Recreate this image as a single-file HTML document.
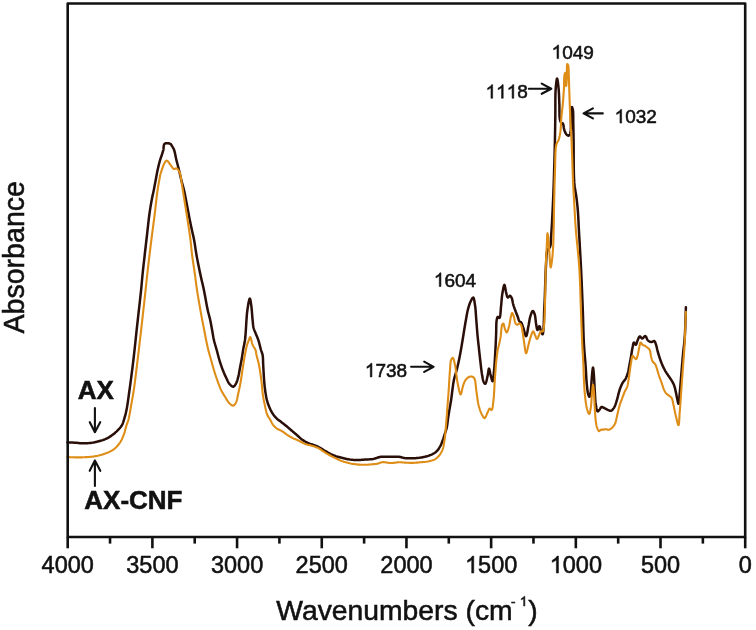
<!DOCTYPE html>
<html><head><meta charset="utf-8"><style>
html,body{margin:0;padding:0;background:#fff;}
body{width:756px;height:630px;overflow:hidden;}
svg{display:block;will-change:transform;}
text{font-family:"Liberation Sans",sans-serif;fill:#111;stroke:#111;stroke-width:0.55px;}
</style></head><body>
<svg width="756" height="630" viewBox="0 0 756 630">
<rect x="0" y="0" width="756" height="630" fill="#fff"/>
<polyline points="67.50,442.50 68.42,442.52 69.34,442.54 70.26,442.56 71.18,442.58 72.10,442.60 73.03,442.62 73.96,442.66 74.90,442.70 75.89,442.76 76.88,442.85 77.88,442.94 78.88,443.04 79.89,443.13 80.90,443.21 81.90,443.27 82.90,443.30 83.89,443.31 84.88,443.30 85.87,443.27 86.86,443.24 87.84,443.18 88.83,443.11 89.82,443.01 90.80,442.90 91.79,442.77 92.78,442.61 93.77,442.44 94.76,442.24 95.75,442.03 96.73,441.81 97.72,441.56 98.70,441.30 99.71,441.02 100.74,440.72 101.77,440.40 102.79,440.07 103.80,439.71 104.80,439.33 105.76,438.93 106.70,438.50 107.55,438.07 108.38,437.61 109.20,437.13 110.00,436.62 110.77,436.11 111.54,435.58 112.28,435.04 113.00,434.50 113.65,433.99 114.29,433.48 114.91,432.95 115.51,432.42 116.10,431.88 116.68,431.33 117.24,430.77 117.80,430.20 118.35,429.64 118.89,429.07 119.43,428.50 119.95,427.92 120.45,427.32 120.93,426.70 121.38,426.07 121.80,425.40 122.19,424.68 122.54,423.93 122.85,423.16 123.14,422.36 123.41,421.55 123.67,420.72 123.93,419.87 124.20,419.00 124.51,417.98 124.82,416.95 125.11,415.91 125.40,414.83 125.68,413.72 125.95,412.55 126.23,411.31 126.50,410.00 126.90,407.91 127.28,405.66 127.65,403.27 128.02,400.76 128.38,398.15 128.75,395.47 129.12,392.75 129.50,390.00 129.98,386.56 130.47,382.98 130.96,379.30 131.46,375.53 131.95,371.69 132.44,367.81 132.93,363.90 133.40,360.00 133.89,355.76 134.38,351.44 134.85,347.08 135.32,342.67 135.79,338.24 136.25,333.81 136.72,329.39 137.20,325.00 137.70,320.53 138.22,315.91 138.75,311.23 139.28,306.59 139.79,302.06 140.27,297.72 140.71,293.68 141.10,290.00 141.32,287.84 141.50,285.86 141.67,284.01 141.83,282.24 141.98,280.51 142.14,278.75 142.31,276.93 142.50,275.00 142.74,272.64 143.00,270.20 143.27,267.71 143.55,265.18 143.84,262.63 144.13,260.07 144.42,257.52 144.70,255.00 144.98,252.50 145.27,250.00 145.56,247.50 145.84,245.00 146.13,242.50 146.42,240.00 146.71,237.50 147.00,235.00 147.28,232.48 147.56,229.93 147.84,227.37 148.12,224.82 148.40,222.29 148.69,219.79 148.99,217.36 149.30,215.00 149.58,213.00 149.87,211.02 150.16,209.08 150.47,207.17 150.77,205.30 151.08,203.48 151.39,201.71 151.70,200.00 151.96,198.65 152.22,197.35 152.49,196.10 152.75,194.87 153.02,193.66 153.29,192.45 153.55,191.24 153.80,190.00 154.05,188.75 154.29,187.50 154.53,186.25 154.76,185.00 155.00,183.75 155.23,182.50 155.46,181.25 155.70,180.00 155.93,178.75 156.16,177.50 156.39,176.25 156.61,175.00 156.84,173.75 157.08,172.50 157.33,171.25 157.60,170.00 157.89,168.72 158.19,167.41 158.50,166.09 158.82,164.78 159.15,163.49 159.47,162.25 159.79,161.08 160.10,160.00 160.32,159.29 160.53,158.62 160.75,157.99 160.97,157.39 161.18,156.80 161.39,156.21 161.60,155.61 161.80,155.00 162.00,154.38 162.20,153.77 162.39,153.15 162.58,152.54 162.77,151.92 162.95,151.29 163.13,150.65 163.30,150.00 163.45,149.22 163.54,148.35 163.60,147.45 163.67,146.55 163.77,145.69 163.94,144.92 164.21,144.28 164.60,143.80 165.13,143.50 165.81,143.31 166.59,143.22 167.42,143.21 168.25,143.28 169.04,143.40 169.74,143.58 170.30,143.80 170.60,143.98 170.86,144.20 171.08,144.46 171.27,144.74 171.45,145.04 171.62,145.35 171.80,145.67 172.00,146.00 172.27,146.42 172.54,146.86 172.81,147.31 173.08,147.78 173.35,148.29 173.61,148.82 173.86,149.39 174.10,150.00 174.44,151.02 174.74,152.17 175.03,153.40 175.30,154.70 175.56,156.04 175.83,157.39 176.11,158.72 176.40,160.00 176.71,161.25 177.04,162.50 177.37,163.75 177.70,165.00 178.03,166.25 178.36,167.50 178.69,168.75 179.00,170.00 179.30,171.25 179.59,172.50 179.87,173.75 180.14,175.00 180.42,176.25 180.70,177.50 181.00,178.75 181.30,180.00 181.62,181.25 181.96,182.50 182.31,183.75 182.67,185.00 183.02,186.25 183.36,187.50 183.69,188.75 184.00,190.00 184.28,191.25 184.55,192.49 184.80,193.74 185.05,194.99 185.29,196.25 185.52,197.50 185.76,198.75 186.00,200.00 186.24,201.25 186.48,202.50 186.72,203.75 186.96,205.00 187.19,206.25 187.43,207.50 187.66,208.75 187.90,210.00 188.14,211.25 188.37,212.50 188.60,213.75 188.84,215.00 189.07,216.25 189.31,217.50 189.55,218.75 189.80,220.00 190.05,221.25 190.31,222.50 190.57,223.75 190.83,225.00 191.10,226.25 191.36,227.50 191.63,228.75 191.90,230.00 192.17,231.24 192.45,232.45 192.73,233.66 193.01,234.87 193.29,236.10 193.56,237.35 193.83,238.65 194.10,240.00 194.41,241.71 194.70,243.48 194.98,245.31 195.26,247.18 195.54,249.09 195.84,251.03 196.16,253.00 196.50,255.00 196.94,257.39 197.41,259.87 197.91,262.42 198.42,265.01 198.95,267.59 199.48,270.14 200.00,272.62 200.50,275.00 200.93,276.97 201.36,278.85 201.78,280.69 202.21,282.50 202.63,284.31 203.06,286.15 203.48,288.03 203.90,290.00 204.38,292.41 204.87,294.96 205.35,297.59 205.83,300.25 206.30,302.88 206.78,305.42 207.24,307.81 207.70,310.00 208.02,311.42 208.35,312.75 208.68,314.00 209.00,315.22 209.31,316.40 209.62,317.58 209.92,318.77 210.20,320.00 210.47,321.25 210.72,322.50 210.96,323.75 211.19,325.00 211.42,326.25 211.65,327.50 211.87,328.75 212.10,330.00 212.32,331.25 212.53,332.50 212.74,333.75 212.95,335.01 213.16,336.26 213.38,337.51 213.63,338.76 213.90,340.00 214.20,341.26 214.53,342.51 214.88,343.76 215.24,345.01 215.61,346.25 215.98,347.50 216.35,348.75 216.70,350.00 217.04,351.25 217.37,352.50 217.69,353.75 218.01,355.01 218.34,356.26 218.68,357.51 219.03,358.75 219.40,360.00 219.79,361.26 220.19,362.54 220.60,363.81 221.03,365.08 221.46,366.35 221.90,367.59 222.35,368.81 222.80,370.00 223.22,371.06 223.64,372.10 224.08,373.13 224.52,374.14 224.96,375.14 225.41,376.11 225.85,377.07 226.30,378.00 226.68,378.82 227.06,379.64 227.43,380.45 227.80,381.25 228.18,382.01 228.59,382.73 229.03,383.40 229.50,384.00 229.93,384.48 230.40,384.97 230.89,385.44 231.39,385.87 231.90,386.24 232.39,386.52 232.86,386.68 233.30,386.70 233.70,386.57 234.08,386.31 234.46,385.93 234.81,385.47 235.16,384.96 235.49,384.40 235.80,383.84 236.10,383.30 236.45,382.61 236.77,381.86 237.06,381.06 237.33,380.23 237.59,379.37 237.83,378.49 238.07,377.60 238.30,376.70 238.55,375.66 238.79,374.58 239.00,373.47 239.20,372.34 239.40,371.20 239.60,370.06 239.79,368.92 240.00,367.80 240.21,366.69 240.43,365.59 240.65,364.49 240.86,363.38 241.08,362.28 241.29,361.16 241.50,360.04 241.70,358.90 241.91,357.67 242.11,356.43 242.31,355.17 242.50,353.90 242.69,352.63 242.89,351.37 243.09,350.13 243.30,348.90 243.51,347.80 243.72,346.76 243.94,345.76 244.16,344.75 244.37,343.71 244.59,342.59 244.80,341.37 245.00,340.00 245.33,337.00 245.62,333.41 245.89,329.42 246.14,325.21 246.41,320.98 246.69,316.90 247.02,313.18 247.40,310.00 247.67,308.15 247.97,306.22 248.28,304.32 248.59,302.53 248.91,300.96 249.23,299.72 249.52,298.90 249.80,298.60 249.99,298.77 250.18,299.23 250.37,299.94 250.55,300.83 250.72,301.83 250.88,302.90 251.05,303.98 251.20,305.00 251.42,306.60 251.61,308.41 251.79,310.36 251.96,312.39 252.12,314.44 252.27,316.43 252.43,318.31 252.60,320.00 252.72,321.13 252.82,322.22 252.91,323.27 253.01,324.29 253.12,325.26 253.25,326.20 253.40,327.12 253.60,328.00 253.79,328.68 254.00,329.33 254.22,329.94 254.46,330.53 254.71,331.12 254.97,331.72 255.24,332.35 255.50,333.00 255.82,333.81 256.17,334.64 256.53,335.48 256.89,336.34 257.26,337.22 257.62,338.12 257.97,339.05 258.30,340.00 258.67,341.18 259.03,342.45 259.38,343.76 259.72,345.10 260.05,346.42 260.38,347.70 260.69,348.90 261.00,350.00 261.22,350.70 261.44,351.33 261.66,351.92 261.88,352.49 262.08,353.06 262.28,353.66 262.45,354.30 262.60,355.00 262.76,356.06 262.88,357.20 262.96,358.40 263.01,359.65 263.05,360.94 263.09,362.27 263.13,363.63 263.20,365.00 263.30,366.75 263.40,368.61 263.51,370.54 263.62,372.50 263.73,374.47 263.85,376.39 263.97,378.25 264.10,380.00 264.21,381.35 264.31,382.64 264.42,383.90 264.54,385.13 264.66,386.34 264.79,387.55 264.94,388.77 265.10,390.00 265.28,391.27 265.47,392.56 265.68,393.86 265.90,395.16 266.13,396.43 266.37,397.67 266.63,398.87 266.90,400.00 267.13,400.86 267.36,401.69 267.61,402.48 267.86,403.26 268.12,404.02 268.40,404.77 268.69,405.53 269.00,406.30 269.33,407.11 269.68,407.93 270.05,408.75 270.42,409.57 270.82,410.38 271.23,411.17 271.65,411.95 272.10,412.70 272.55,413.40 273.01,414.09 273.48,414.77 273.98,415.43 274.49,416.08 275.01,416.71 275.55,417.31 276.10,417.90 276.66,418.44 277.24,418.96 277.83,419.46 278.44,419.93 279.06,420.40 279.68,420.87 280.29,421.33 280.90,421.80 281.49,422.26 282.07,422.70 282.65,423.14 283.23,423.57 283.82,424.01 284.40,424.46 285.00,424.92 285.60,425.40 286.28,425.96 286.97,426.54 287.67,427.14 288.38,427.75 289.09,428.37 289.79,428.98 290.50,429.60 291.20,430.20 291.89,430.79 292.58,431.38 293.26,431.96 293.95,432.55 294.64,433.14 295.32,433.72 296.01,434.31 296.70,434.90 297.40,435.51 298.09,436.13 298.78,436.76 299.47,437.39 300.17,438.00 300.87,438.60 301.58,439.17 302.30,439.70 302.97,440.16 303.63,440.59 304.29,441.00 304.96,441.39 305.65,441.77 306.36,442.14 307.11,442.52 307.90,442.90 309.01,443.38 310.21,443.85 311.48,444.29 312.80,444.74 314.12,445.20 315.43,445.67 316.70,446.17 317.90,446.70 318.96,447.24 319.99,447.81 320.99,448.41 321.97,449.02 322.95,449.63 323.92,450.24 324.90,450.83 325.90,451.40 326.88,451.94 327.86,452.48 328.84,453.01 329.83,453.53 330.81,454.04 331.80,454.52 332.80,454.98 333.80,455.40 334.77,455.77 335.75,456.12 336.74,456.44 337.72,456.73 338.72,457.01 339.71,457.28 340.70,457.54 341.70,457.80 342.69,458.05 343.69,458.30 344.69,458.54 345.69,458.77 346.69,458.98 347.69,459.18 348.70,459.35 349.70,459.50 350.69,459.62 351.67,459.73 352.66,459.82 353.65,459.88 354.63,459.94 355.62,459.97 356.61,459.99 357.60,460.00 358.60,459.99 359.61,459.95 360.61,459.89 361.62,459.81 362.62,459.73 363.62,459.65 364.62,459.57 365.60,459.50 366.53,459.45 367.44,459.41 368.35,459.38 369.26,459.35 370.16,459.30 371.07,459.23 371.98,459.14 372.90,459.00 373.89,458.79 374.88,458.52 375.88,458.20 376.88,457.87 377.88,457.54 378.89,457.23 379.89,456.98 380.90,456.80 381.88,456.70 382.84,456.65 383.81,456.64 384.78,456.67 385.76,456.71 386.75,456.75 387.76,456.79 388.80,456.80 390.04,456.79 391.35,456.75 392.70,456.71 394.07,456.68 395.41,456.65 396.72,456.66 397.96,456.70 399.10,456.80 399.88,456.92 400.60,457.07 401.29,457.25 401.95,457.45 402.60,457.64 403.27,457.82 403.96,457.98 404.70,458.10 405.62,458.20 406.57,458.27 407.56,458.32 408.56,458.35 409.57,458.35 410.59,458.35 411.60,458.33 412.60,458.30 413.60,458.26 414.60,458.22 415.60,458.16 416.59,458.08 417.59,457.99 418.60,457.88 419.60,457.75 420.60,457.60 421.64,457.42 422.70,457.23 423.76,457.02 424.82,456.79 425.87,456.53 426.91,456.25 427.92,455.94 428.90,455.60 429.80,455.26 430.70,454.91 431.59,454.53 432.45,454.14 433.29,453.71 434.10,453.25 434.87,452.75 435.60,452.20 436.26,451.62 436.88,451.00 437.47,450.34 438.03,449.65 438.56,448.94 439.06,448.20 439.54,447.45 440.00,446.70 440.43,445.92 440.83,445.11 441.20,444.27 441.54,443.43 441.87,442.57 442.18,441.71 442.49,440.85 442.80,440.00 443.10,439.16 443.40,438.32 443.68,437.47 443.96,436.62 444.22,435.77 444.49,434.93 444.74,434.11 445.00,433.30 445.23,432.60 445.46,431.94 445.68,431.29 445.90,430.65 446.11,429.99 446.31,429.31 446.51,428.58 446.70,427.80 446.94,426.58 447.17,425.24 447.38,423.81 447.57,422.32 447.75,420.83 447.94,419.37 448.12,417.98 448.30,416.70 448.44,415.79 448.58,414.94 448.71,414.12 448.84,413.33 448.97,412.54 449.11,411.73 449.25,410.89 449.40,410.00 449.59,408.87 449.79,407.72 450.00,406.55 450.21,405.34 450.43,404.09 450.65,402.79 450.87,401.43 451.10,400.00 451.42,397.78 451.74,395.32 452.06,392.70 452.39,389.99 452.74,387.29 453.10,384.67 453.49,382.21 453.90,380.00 454.22,378.58 454.56,377.25 454.92,375.99 455.29,374.78 455.66,373.60 456.02,372.42 456.37,371.23 456.70,370.00 457.01,368.75 457.32,367.51 457.62,366.26 457.90,365.01 458.19,363.76 458.46,362.50 458.73,361.25 459.00,360.00 459.26,358.75 459.51,357.50 459.75,356.25 459.99,355.00 460.22,353.75 460.45,352.50 460.67,351.25 460.90,350.00 461.12,348.75 461.34,347.50 461.56,346.25 461.77,345.00 461.98,343.75 462.19,342.50 462.39,341.25 462.60,340.00 462.80,338.75 463.00,337.50 463.20,336.25 463.40,335.00 463.60,333.75 463.80,332.50 464.00,331.25 464.20,330.00 464.41,328.75 464.61,327.50 464.82,326.25 465.03,325.00 465.24,323.75 465.46,322.50 465.68,321.25 465.90,320.00 466.12,318.74 466.34,317.47 466.55,316.19 466.77,314.92 467.01,313.66 467.25,312.41 467.51,311.19 467.80,310.00 468.08,308.93 468.37,307.86 468.67,306.81 468.98,305.77 469.31,304.76 469.66,303.79 470.02,302.86 470.40,302.00 470.73,301.30 471.08,300.56 471.45,299.81 471.83,299.10 472.21,298.48 472.57,297.99 472.90,297.68 473.20,297.60 473.51,297.84 473.79,298.41 474.03,299.24 474.25,300.26 474.45,301.41 474.64,302.63 474.82,303.85 475.00,305.00 475.23,306.62 475.43,308.37 475.60,310.23 475.75,312.16 475.88,314.14 476.02,316.12 476.15,318.09 476.30,320.00 476.45,321.87 476.60,323.75 476.74,325.63 476.88,327.50 477.03,329.38 477.17,331.25 477.33,333.13 477.50,335.00 477.68,336.90 477.88,338.82 478.08,340.76 478.29,342.69 478.50,344.60 478.71,346.46 478.91,348.27 479.10,350.00 479.24,351.33 479.38,352.60 479.51,353.81 479.64,355.00 479.77,356.19 479.90,357.41 480.04,358.67 480.20,360.00 480.41,361.77 480.62,363.67 480.85,365.66 481.08,367.67 481.32,369.66 481.58,371.58 481.83,373.38 482.10,375.00 482.28,376.04 482.45,377.06 482.63,378.04 482.80,378.98 482.99,379.85 483.20,380.66 483.44,381.38 483.70,382.00 483.87,382.33 484.05,382.66 484.24,382.98 484.43,383.26 484.63,383.50 484.82,383.68 485.02,383.79 485.20,383.80 485.56,383.48 485.91,382.72 486.27,381.65 486.61,380.34 486.94,378.93 487.25,377.49 487.54,376.15 487.80,375.00 487.99,374.07 488.15,373.04 488.30,371.97 488.43,370.95 488.56,370.03 488.69,369.28 488.84,368.79 489.00,368.60 489.18,368.78 489.36,369.30 489.55,370.06 489.75,371.00 489.95,372.04 490.16,373.11 490.38,374.12 490.60,375.00 490.84,375.88 491.09,376.88 491.35,377.94 491.62,378.96 491.89,379.89 492.14,380.63 492.38,381.13 492.60,381.30 492.85,380.97 493.08,380.11 493.28,378.83 493.46,377.24 493.63,375.45 493.79,373.57 493.94,371.72 494.10,370.00 494.30,367.75 494.49,365.34 494.67,362.79 494.83,360.18 494.99,357.54 495.13,354.93 495.27,352.40 495.40,350.00 495.51,348.02 495.61,346.10 495.70,344.22 495.78,342.37 495.86,340.53 495.94,338.70 496.02,336.86 496.10,335.00 496.16,333.05 496.20,330.98 496.23,328.87 496.26,326.79 496.30,324.79 496.38,322.95 496.51,321.33 496.70,320.00 496.80,319.46 496.91,318.93 497.03,318.43 497.15,317.97 497.28,317.58 497.43,317.26 497.61,317.03 497.80,316.90 497.97,316.92 498.17,317.04 498.38,317.24 498.59,317.47 498.81,317.70 499.02,317.89 499.22,318.00 499.40,318.00 499.78,317.50 500.07,316.44 500.31,314.97 500.49,313.21 500.65,311.28 500.79,309.31 500.94,307.45 501.10,305.80 501.25,304.38 501.38,302.97 501.49,301.57 501.60,300.17 501.72,298.78 501.85,297.41 502.01,296.05 502.20,294.70 502.42,293.31 502.68,291.74 502.95,290.11 503.25,288.53 503.55,287.11 503.84,285.96 504.13,285.18 504.40,284.90 504.62,285.13 504.83,285.76 505.04,286.68 505.24,287.81 505.44,289.05 505.65,290.29 505.87,291.44 506.10,292.40 506.29,293.14 506.47,293.92 506.65,294.73 506.83,295.49 507.03,296.19 507.26,296.77 507.51,297.19 507.80,297.40 508.04,297.38 508.30,297.22 508.59,296.95 508.88,296.64 509.18,296.32 509.47,296.04 509.74,295.85 510.00,295.80 510.24,295.88 510.47,296.04 510.70,296.27 510.92,296.56 511.12,296.89 511.32,297.25 511.52,297.62 511.70,298.00 511.96,298.65 512.18,299.40 512.37,300.23 512.54,301.11 512.71,302.02 512.88,302.94 513.08,303.84 513.30,304.70 513.55,305.54 513.82,306.37 514.11,307.21 514.40,308.05 514.70,308.87 515.00,309.69 515.30,310.50 515.60,311.30 515.87,312.03 516.16,312.75 516.44,313.47 516.72,314.17 517.00,314.87 517.28,315.56 517.54,316.23 517.80,316.90 518.01,317.50 518.19,318.11 518.37,318.73 518.55,319.34 518.73,319.91 518.92,320.44 519.15,320.91 519.40,321.30 519.59,321.50 519.80,321.64 520.01,321.75 520.24,321.84 520.46,321.94 520.69,322.05 520.90,322.20 521.10,322.40 521.41,322.84 521.69,323.37 521.95,323.98 522.20,324.65 522.44,325.36 522.69,326.10 522.94,326.86 523.20,327.60 523.55,328.69 523.92,330.00 524.30,331.43 524.68,332.85 525.05,334.16 525.42,335.23 525.77,335.95 526.10,336.20 526.44,335.88 526.77,335.02 527.08,333.76 527.37,332.21 527.66,330.51 527.95,328.78 528.22,327.13 528.50,325.70 528.75,324.47 528.97,323.22 529.18,321.97 529.39,320.73 529.60,319.52 529.84,318.35 530.10,317.24 530.40,316.20 530.66,315.39 530.94,314.53 531.24,313.67 531.55,312.85 531.87,312.12 532.19,311.54 532.50,311.15 532.80,311.00 533.05,311.07 533.30,311.30 533.55,311.65 533.80,312.10 534.05,312.61 534.28,313.17 534.50,313.74 534.70,314.30 534.97,315.25 535.18,316.36 535.35,317.57 535.50,318.85 535.64,320.16 535.77,321.45 535.92,322.68 536.10,323.80 536.26,324.72 536.41,325.73 536.56,326.75 536.72,327.73 536.89,328.61 537.07,329.32 537.27,329.81 537.50,330.00 537.71,329.85 537.94,329.43 538.18,328.82 538.44,328.11 538.69,327.40 538.94,326.79 539.18,326.36 539.40,326.20 539.61,326.34 539.80,326.69 539.98,327.21 540.16,327.85 540.34,328.54 540.52,329.25 540.70,329.92 540.90,330.50 541.11,331.04 541.33,331.66 541.56,332.30 541.79,332.92 542.01,333.47 542.23,333.92 542.43,334.21 542.60,334.30 542.77,334.14 542.92,333.73 543.04,333.12 543.15,332.35 543.24,331.47 543.33,330.52 543.41,329.55 543.50,328.60 543.65,326.71 543.76,324.46 543.85,321.97 543.93,319.34 543.99,316.67 544.05,314.07 544.12,311.65 544.20,309.50 544.26,308.20 544.32,307.03 544.38,305.96 544.44,304.92 544.50,303.86 544.57,302.72 544.63,301.45 544.70,300.00 544.83,296.58 544.97,292.46 545.10,287.85 545.25,282.96 545.41,278.02 545.58,273.24 545.78,268.82 546.00,265.00 546.13,262.74 546.23,260.52 546.33,258.38 546.44,256.35 546.58,254.46 546.80,252.75 547.09,251.25 547.50,250.00 547.77,249.49 548.07,249.10 548.41,248.77 548.76,248.48 549.11,248.19 549.44,247.87 549.74,247.49 550.00,247.00 550.35,245.95 550.59,244.75 550.75,243.41 550.86,241.93 550.93,240.34 551.00,238.64 551.08,236.86 551.20,235.00 551.45,231.54 551.70,227.69 551.95,223.49 552.19,219.04 552.43,214.39 552.67,209.62 552.89,204.80 553.10,200.00 553.34,194.11 553.57,187.88 553.80,181.44 554.00,174.91 554.20,168.38 554.38,161.98 554.55,155.81 554.70,150.00 554.81,145.54 554.90,141.24 554.98,137.06 555.05,132.97 555.12,128.96 555.18,125.00 555.24,121.05 555.30,117.10 555.34,113.34 555.35,109.49 555.35,105.62 555.36,101.81 555.38,98.12 555.43,94.65 555.53,91.45 555.70,88.60 555.83,86.96 555.99,85.27 556.16,83.59 556.34,82.03 556.53,80.66 556.72,79.57 556.91,78.86 557.10,78.60 557.29,78.88 557.49,79.65 557.69,80.80 557.90,82.23 558.09,83.84 558.28,85.50 558.45,87.13 558.60,88.60 558.74,90.25 558.86,91.96 558.95,93.72 559.03,95.51 559.09,97.33 559.16,99.17 559.22,101.03 559.30,102.90 559.37,105.06 559.40,107.41 559.41,109.84 559.43,112.26 559.48,114.58 559.58,116.71 559.74,118.55 560.00,120.00 560.14,120.51 560.28,120.97 560.44,121.39 560.61,121.76 560.79,122.10 560.98,122.40 561.18,122.66 561.40,122.90 561.57,123.03 561.76,123.12 561.96,123.17 562.16,123.22 562.36,123.26 562.55,123.33 562.74,123.44 562.90,123.60 563.17,124.09 563.37,124.77 563.53,125.58 563.66,126.48 563.78,127.42 563.92,128.35 564.08,129.23 564.30,130.00 564.52,130.61 564.74,131.22 564.98,131.81 565.23,132.39 565.50,132.94 565.78,133.44 566.08,133.90 566.40,134.30 566.65,134.57 566.92,134.84 567.21,135.10 567.50,135.32 567.79,135.51 568.08,135.64 568.35,135.71 568.60,135.70 568.87,135.59 569.12,135.39 569.37,135.11 569.61,134.77 569.83,134.36 570.03,133.91 570.23,133.42 570.40,132.90 570.69,131.54 570.86,129.80 570.93,127.79 570.95,125.60 570.93,123.34 570.92,121.11 570.93,118.99 571.00,117.10 571.09,115.61 571.17,113.98 571.26,112.32 571.35,110.73 571.46,109.31 571.58,108.17 571.73,107.39 571.90,107.10 572.01,107.16 572.14,107.35 572.27,107.64 572.41,108.03 572.55,108.48 572.68,108.97 572.80,109.48 572.90,110.00 573.07,111.26 573.17,112.79 573.23,114.53 573.26,116.42 573.26,118.41 573.26,120.42 573.27,122.41 573.30,124.30 573.34,126.17 573.38,127.99 573.42,129.79 573.45,131.62 573.49,133.51 573.52,135.51 573.56,137.66 573.60,140.00 573.65,144.51 573.67,149.78 573.68,155.56 573.70,161.58 573.75,167.59 573.86,173.31 574.03,178.51 574.30,182.90 574.51,185.05 574.75,186.99 575.02,188.79 575.31,190.48 575.60,192.11 575.89,193.73 576.16,195.37 576.40,197.10 576.62,198.87 576.83,200.62 577.03,202.37 577.22,204.13 577.41,205.89 577.58,207.69 577.74,209.52 577.90,211.40 578.06,213.56 578.19,215.72 578.31,217.91 578.42,220.14 578.53,222.44 578.64,224.83 578.76,227.34 578.90,230.00 579.13,234.09 579.38,238.49 579.65,243.15 579.92,247.99 580.21,252.95 580.48,257.97 580.75,262.98 581.00,267.90 581.25,273.09 581.49,278.38 581.73,283.74 581.96,289.12 582.19,294.48 582.40,299.77 582.61,304.96 582.80,310.00 582.95,314.39 583.08,318.76 583.20,323.07 583.31,327.31 583.43,331.47 583.56,335.54 583.71,339.48 583.90,343.30 584.08,346.31 584.28,349.22 584.50,352.05 584.73,354.81 584.96,357.53 585.18,360.22 585.40,362.91 585.60,365.60 585.77,368.18 585.93,370.82 586.08,373.46 586.22,376.06 586.37,378.60 586.53,381.03 586.70,383.31 586.90,385.40 587.04,386.72 587.18,388.01 587.31,389.25 587.46,390.43 587.62,391.53 587.79,392.56 587.98,393.48 588.20,394.30 588.34,394.73 588.48,395.17 588.63,395.59 588.79,395.99 588.95,396.32 589.11,396.58 589.26,396.75 589.40,396.80 589.58,396.66 589.76,396.29 589.94,395.75 590.10,395.06 590.26,394.27 590.41,393.42 590.56,392.55 590.70,391.70 590.92,390.05 591.11,388.10 591.27,385.93 591.42,383.65 591.55,381.34 591.69,379.10 591.84,377.02 592.00,375.20 592.12,374.01 592.25,372.74 592.37,371.47 592.50,370.27 592.63,369.21 592.75,368.36 592.88,367.80 593.00,367.60 593.12,367.80 593.24,368.36 593.35,369.21 593.47,370.27 593.58,371.47 593.69,372.74 593.80,374.01 593.90,375.20 594.03,376.97 594.15,378.93 594.26,381.02 594.37,383.19 594.47,385.39 594.57,387.58 594.68,389.70 594.80,391.70 594.90,393.39 595.00,395.08 595.08,396.76 595.18,398.40 595.29,400.00 595.42,401.54 595.59,403.01 595.80,404.40 595.98,405.47 596.17,406.60 596.37,407.74 596.59,408.83 596.83,409.79 597.10,410.59 597.38,411.14 597.70,411.40 597.91,411.39 598.14,411.26 598.38,411.05 598.62,410.77 598.87,410.45 599.12,410.11 599.37,409.79 599.60,409.50 599.84,409.18 600.07,408.82 600.30,408.44 600.53,408.05 600.75,407.69 600.99,407.38 601.24,407.14 601.50,407.00 601.72,406.96 601.95,406.98 602.18,407.04 602.42,407.13 602.66,407.24 602.90,407.36 603.15,407.49 603.40,407.60 603.70,407.73 604.01,407.88 604.32,408.04 604.63,408.21 604.95,408.39 605.26,408.56 605.58,408.73 605.90,408.90 606.22,409.07 606.54,409.24 606.87,409.42 607.19,409.59 607.52,409.76 607.84,409.92 608.17,410.07 608.50,410.20 608.81,410.32 609.13,410.45 609.45,410.58 609.76,410.69 610.08,410.78 610.39,410.84 610.70,410.85 611.00,410.80 611.35,410.66 611.70,410.44 612.04,410.15 612.38,409.81 612.71,409.45 613.02,409.06 613.32,408.67 613.60,408.30 613.86,407.93 614.10,407.56 614.32,407.17 614.52,406.77 614.72,406.35 614.91,405.92 615.10,405.47 615.30,405.00 615.56,404.35 615.80,403.65 616.05,402.92 616.28,402.16 616.51,401.38 616.74,400.59 616.97,399.79 617.20,399.00 617.45,398.11 617.69,397.19 617.92,396.25 618.16,395.30 618.39,394.36 618.63,393.43 618.86,392.54 619.10,391.70 619.29,391.05 619.48,390.42 619.67,389.82 619.85,389.23 620.05,388.64 620.25,388.07 620.47,387.49 620.70,386.90 620.96,386.28 621.24,385.66 621.52,385.03 621.82,384.41 622.13,383.80 622.45,383.21 622.77,382.64 623.10,382.10 623.39,381.68 623.69,381.30 624.00,380.94 624.31,380.59 624.62,380.23 624.93,379.86 625.22,379.45 625.50,379.00 625.85,378.33 626.18,377.60 626.50,376.83 626.81,376.02 627.10,375.18 627.38,374.32 627.65,373.46 627.90,372.60 628.15,371.66 628.38,370.70 628.58,369.71 628.77,368.72 628.95,367.71 629.13,366.70 629.31,365.70 629.50,364.70 629.69,363.71 629.88,362.72 630.07,361.74 630.26,360.75 630.44,359.75 630.63,358.75 630.81,357.73 631.00,356.70 631.20,355.53 631.40,354.30 631.59,353.05 631.79,351.79 631.98,350.55 632.18,349.36 632.39,348.23 632.60,347.20 632.75,346.47 632.89,345.70 633.02,344.94 633.16,344.21 633.31,343.56 633.48,343.03 633.68,342.67 633.90,342.50 634.10,342.57 634.33,342.83 634.58,343.20 634.83,343.64 635.09,344.08 635.34,344.46 635.58,344.72 635.80,344.80 636.03,344.66 636.24,344.34 636.43,343.87 636.61,343.31 636.79,342.69 636.98,342.06 637.18,341.45 637.40,340.90 637.66,340.29 637.94,339.60 638.22,338.88 638.51,338.16 638.82,337.51 639.13,336.97 639.46,336.58 639.80,336.40 640.08,336.45 640.36,336.67 640.65,337.00 640.95,337.39 641.25,337.79 641.56,338.14 641.88,338.40 642.20,338.50 642.57,338.40 642.96,338.11 643.37,337.71 643.77,337.25 644.18,336.79 644.57,336.41 644.95,336.16 645.30,336.10 645.64,336.28 645.95,336.66 646.23,337.18 646.51,337.79 646.78,338.44 647.06,339.08 647.36,339.65 647.70,340.10 648.01,340.41 648.34,340.70 648.69,340.97 649.04,341.22 649.40,341.44 649.74,341.63 650.08,341.79 650.40,341.90 650.61,341.95 650.81,341.99 651.01,342.00 651.20,342.00 651.39,341.99 651.59,341.97 651.79,341.93 652.00,341.90 652.28,341.82 652.57,341.69 652.88,341.53 653.18,341.36 653.49,341.21 653.78,341.10 654.05,341.06 654.30,341.10 654.56,341.27 654.80,341.55 655.01,341.91 655.20,342.34 655.38,342.81 655.56,343.30 655.73,343.81 655.90,344.30 656.13,344.97 656.33,345.70 656.53,346.46 656.71,347.26 656.89,348.09 657.08,348.92 657.28,349.76 657.50,350.60 657.77,351.56 658.05,352.56 658.34,353.58 658.64,354.61 658.95,355.64 659.27,356.65 659.58,357.64 659.90,358.60 660.18,359.43 660.47,360.24 660.75,361.03 661.04,361.81 661.34,362.58 661.65,363.35 661.97,364.12 662.30,364.90 662.66,365.71 663.04,366.53 663.43,367.36 663.83,368.18 664.24,368.99 664.66,369.78 665.08,370.56 665.50,371.30 665.88,371.93 666.26,372.54 666.64,373.13 667.03,373.70 667.42,374.27 667.81,374.84 668.21,375.42 668.60,376.00 669.00,376.60 669.41,377.19 669.83,377.79 670.24,378.39 670.65,378.98 671.05,379.59 671.43,380.19 671.80,380.80 672.14,381.39 672.47,381.97 672.79,382.55 673.10,383.13 673.40,383.73 673.68,384.33 673.95,384.96 674.20,385.60 674.45,386.33 674.68,387.08 674.89,387.85 675.08,388.64 675.26,389.44 675.44,390.25 675.61,391.07 675.80,391.90 676.01,392.86 676.22,393.87 676.42,394.91 676.62,395.96 676.81,396.99 677.01,397.99 677.21,398.94 677.40,399.80 677.54,400.42 677.68,401.09 677.83,401.76 677.97,402.40 678.11,402.96 678.24,403.41 678.38,403.70 678.50,403.80 678.68,403.51 678.85,402.73 679.00,401.57 679.14,400.12 679.28,398.49 679.42,396.78 679.56,395.08 679.70,393.50 679.90,391.39 680.10,389.14 680.30,386.77 680.50,384.31 680.70,381.82 680.90,379.31 681.10,376.83 681.30,374.40 681.50,372.02 681.69,369.65 681.89,367.27 682.08,364.90 682.28,362.53 682.48,360.15 682.69,357.78 682.90,355.40 683.13,353.04 683.38,350.72 683.63,348.42 683.89,346.10 684.14,343.76 684.38,341.36 684.60,338.88 684.80,336.30 685.00,332.97 685.17,329.48 685.31,325.87 685.44,322.18 685.55,318.44 685.66,314.69 685.77,310.97 685.90,307.30" fill="none" stroke="#2a0e08" stroke-width="2.5" stroke-linejoin="round" stroke-linecap="round"/>
<polyline points="67.50,457.10 68.94,457.14 70.40,457.19 71.87,457.24 73.33,457.30 74.78,457.34 76.20,457.38 77.57,457.40 78.90,457.40 79.96,457.39 80.98,457.37 81.97,457.35 82.94,457.31 83.90,457.27 84.86,457.22 85.82,457.16 86.80,457.10 87.80,457.03 88.80,456.96 89.80,456.88 90.81,456.80 91.81,456.70 92.81,456.59 93.81,456.46 94.80,456.30 95.80,456.12 96.79,455.93 97.78,455.72 98.77,455.49 99.75,455.25 100.74,454.98 101.72,454.70 102.70,454.40 103.72,454.07 104.75,453.72 105.79,453.35 106.83,452.97 107.85,452.56 108.84,452.13 109.79,451.67 110.70,451.20 111.47,450.76 112.21,450.32 112.92,449.86 113.61,449.38 114.28,448.88 114.93,448.35 115.57,447.79 116.20,447.20 116.87,446.52 117.52,445.79 118.16,445.03 118.78,444.24 119.38,443.42 119.95,442.59 120.49,441.75 121.00,440.90 121.47,440.05 121.92,439.17 122.33,438.27 122.72,437.37 123.09,436.45 123.44,435.53 123.77,434.61 124.10,433.70 124.39,432.82 124.66,431.94 124.91,431.05 125.14,430.17 125.36,429.28 125.60,428.39 125.84,427.50 126.10,426.60 126.40,425.68 126.71,424.77 127.03,423.87 127.35,422.97 127.68,422.04 128.00,421.08 128.31,420.07 128.60,419.00 128.97,417.46 129.31,415.82 129.64,414.10 129.96,412.31 130.27,410.48 130.58,408.64 130.88,406.80 131.20,405.00 131.53,403.19 131.85,401.41 132.18,399.64 132.50,397.86 132.82,396.03 133.15,394.13 133.47,392.13 133.80,390.00 134.27,386.76 134.74,383.28 135.21,379.61 135.69,375.79 136.17,371.88 136.65,367.91 137.12,363.93 137.60,360.00 138.11,355.75 138.63,351.44 139.15,347.07 139.66,342.67 140.18,338.25 140.69,333.81 141.20,329.39 141.70,325.00 142.21,320.53 142.73,315.91 143.25,311.23 143.77,306.59 144.28,302.06 144.75,297.72 145.20,293.68 145.60,290.00 145.83,287.84 146.04,285.86 146.24,284.01 146.42,282.24 146.61,280.51 146.79,278.75 146.99,276.93 147.20,275.00 147.46,272.64 147.74,270.20 148.02,267.71 148.31,265.18 148.60,262.62 148.90,260.07 149.20,257.52 149.50,255.00 149.80,252.50 150.11,250.00 150.42,247.50 150.73,245.00 151.05,242.50 151.36,240.00 151.68,237.50 152.00,235.00 152.33,232.47 152.66,229.90 153.00,227.31 153.34,224.73 153.68,222.19 154.01,219.70 154.31,217.30 154.60,215.00 154.81,213.24 155.01,211.54 155.20,209.90 155.38,208.29 155.56,206.71 155.73,205.15 155.91,203.58 156.10,202.00 156.28,200.47 156.46,198.94 156.64,197.41 156.82,195.90 157.01,194.40 157.20,192.91 157.39,191.44 157.60,190.00 157.80,188.69 158.00,187.39 158.21,186.10 158.42,184.83 158.64,183.58 158.86,182.35 159.08,181.16 159.30,180.00 159.47,179.08 159.62,178.20 159.76,177.35 159.91,176.52 160.07,175.69 160.27,174.84 160.51,173.95 160.80,173.00 161.31,171.45 161.91,169.59 162.60,167.57 163.35,165.57 164.13,163.71 164.93,162.16 165.73,161.07 166.50,160.60 167.02,160.68 167.55,161.02 168.08,161.57 168.62,162.27 169.16,163.04 169.69,163.83 170.20,164.57 170.70,165.20 171.12,165.73 171.53,166.30 171.92,166.88 172.31,167.46 172.70,167.98 173.09,168.44 173.49,168.78 173.90,169.00 174.21,169.04 174.52,168.99 174.84,168.87 175.16,168.72 175.48,168.56 175.79,168.44 176.10,168.37 176.40,168.40 176.75,168.54 177.11,168.77 177.46,169.06 177.80,169.40 178.13,169.78 178.44,170.18 178.73,170.59 179.00,171.00 179.26,171.47 179.49,171.97 179.70,172.50 179.88,173.05 180.05,173.62 180.20,174.20 180.35,174.80 180.50,175.40 180.66,176.12 180.80,176.87 180.93,177.63 181.04,178.42 181.15,179.22 181.26,180.03 181.37,180.86 181.50,181.70 181.65,182.66 181.80,183.61 181.95,184.57 182.10,185.55 182.26,186.57 182.43,187.65 182.61,188.78 182.80,190.00 183.13,192.09 183.50,194.39 183.90,196.87 184.32,199.46 184.74,202.12 185.17,204.80 185.59,207.44 186.00,210.00 186.40,212.55 186.81,215.16 187.23,217.80 187.64,220.43 188.04,223.00 188.42,225.48 188.78,227.83 189.10,230.00 189.31,231.40 189.50,232.69 189.68,233.91 189.85,235.09 190.01,236.25 190.17,237.44 190.33,238.68 190.50,240.00 190.70,241.71 190.89,243.49 191.07,245.31 191.26,247.18 191.44,249.09 191.64,251.03 191.86,253.00 192.10,255.00 192.41,257.38 192.76,259.87 193.13,262.42 193.52,265.00 193.91,267.58 194.29,270.13 194.66,272.62 195.00,275.00 195.27,276.96 195.51,278.85 195.75,280.69 195.98,282.50 196.21,284.31 196.45,286.15 196.71,288.04 197.00,290.00 197.38,292.41 197.79,294.96 198.23,297.60 198.69,300.25 199.15,302.88 199.59,305.42 200.02,307.81 200.40,310.00 200.65,311.41 200.88,312.74 201.10,314.00 201.32,315.22 201.53,316.40 201.75,317.58 201.97,318.77 202.20,320.00 202.44,321.25 202.69,322.50 202.94,323.75 203.19,325.00 203.45,326.25 203.70,327.50 203.95,328.75 204.20,330.00 204.44,331.25 204.68,332.50 204.91,333.75 205.14,335.00 205.37,336.25 205.61,337.50 205.85,338.75 206.10,340.00 206.36,341.25 206.62,342.50 206.88,343.76 207.15,345.01 207.42,346.26 207.70,347.51 208.00,348.75 208.30,350.00 208.62,351.25 208.96,352.50 209.31,353.76 209.66,355.00 210.02,356.25 210.39,357.50 210.75,358.75 211.10,360.00 211.45,361.25 211.79,362.50 212.13,363.75 212.47,365.00 212.82,366.26 213.17,367.50 213.53,368.75 213.90,370.00 214.29,371.25 214.68,372.51 215.08,373.76 215.48,375.01 215.90,376.26 216.32,377.51 216.76,378.76 217.20,380.00 217.66,381.27 218.12,382.56 218.59,383.86 219.07,385.15 219.56,386.42 220.06,387.66 220.57,388.86 221.10,390.00 221.56,390.92 222.03,391.80 222.50,392.64 222.99,393.46 223.48,394.27 223.98,395.08 224.49,395.88 225.00,396.70 225.52,397.56 226.05,398.46 226.58,399.37 227.12,400.26 227.67,401.13 228.23,401.94 228.81,402.67 229.40,403.30 229.87,403.74 230.37,404.17 230.87,404.59 231.39,404.96 231.89,405.26 232.39,405.49 232.86,405.61 233.30,405.60 233.71,405.46 234.10,405.20 234.47,404.84 234.83,404.39 235.17,403.89 235.50,403.34 235.81,402.77 236.10,402.20 236.48,401.32 236.81,400.33 237.09,399.25 237.34,398.11 237.58,396.92 237.81,395.71 238.05,394.49 238.30,393.30 238.60,391.98 238.89,390.65 239.19,389.30 239.48,387.92 239.77,386.53 240.05,385.11 240.33,383.67 240.60,382.20 240.90,380.49 241.18,378.72 241.45,376.92 241.72,375.09 241.99,373.25 242.25,371.41 242.52,369.59 242.80,367.80 243.07,366.09 243.34,364.37 243.60,362.65 243.87,360.94 244.15,359.26 244.42,357.60 244.71,355.98 245.00,354.40 245.26,353.05 245.52,351.69 245.79,350.35 246.06,349.04 246.34,347.78 246.62,346.57 246.91,345.44 247.20,344.40 247.41,343.75 247.62,343.14 247.83,342.57 248.05,342.02 248.26,341.50 248.48,340.99 248.69,340.49 248.90,340.00 249.07,339.57 249.23,339.09 249.39,338.60 249.54,338.14 249.70,337.72 249.86,337.39 250.03,337.17 250.20,337.10 250.48,337.36 250.77,338.03 251.06,339.01 251.36,340.21 251.67,341.51 252.00,342.81 252.34,344.00 252.70,345.00 253.03,345.69 253.40,346.34 253.78,346.97 254.17,347.57 254.55,348.16 254.91,348.76 255.23,349.37 255.50,350.00 255.70,350.60 255.85,351.19 255.96,351.78 256.06,352.38 256.15,352.99 256.24,353.63 256.36,354.29 256.50,355.00 256.76,356.07 257.05,357.21 257.37,358.41 257.71,359.65 258.05,360.94 258.38,362.27 258.70,363.62 259.00,365.00 259.33,366.72 259.65,368.53 259.95,370.39 260.24,372.30 260.52,374.23 260.79,376.17 261.05,378.10 261.30,380.00 261.53,381.89 261.73,383.82 261.92,385.76 262.09,387.69 262.27,389.60 262.46,391.47 262.67,393.27 262.90,395.00 263.11,396.35 263.32,397.65 263.55,398.91 263.78,400.13 264.02,401.35 264.27,402.55 264.53,403.77 264.80,405.00 265.07,406.29 265.35,407.62 265.63,408.97 265.92,410.31 266.23,411.61 266.56,412.84 266.92,413.98 267.30,415.00 267.58,415.60 267.88,416.14 268.18,416.63 268.50,417.09 268.82,417.54 269.15,418.00 269.48,418.48 269.80,419.00 270.17,419.66 270.53,420.36 270.90,421.09 271.26,421.82 271.64,422.56 272.04,423.27 272.45,423.96 272.90,424.60 273.34,425.17 273.80,425.72 274.28,426.26 274.78,426.77 275.28,427.27 275.81,427.74 276.35,428.18 276.90,428.60 277.46,428.96 278.03,429.28 278.63,429.56 279.24,429.83 279.85,430.09 280.47,430.36 281.09,430.66 281.70,431.00 282.38,431.43 283.06,431.90 283.74,432.40 284.43,432.91 285.12,433.43 285.81,433.94 286.50,434.43 287.20,434.90 287.89,435.33 288.58,435.76 289.28,436.18 289.98,436.58 290.68,436.98 291.39,437.37 292.09,437.74 292.80,438.10 293.48,438.43 294.16,438.74 294.84,439.03 295.52,439.31 296.21,439.59 296.90,439.88 297.60,440.18 298.30,440.50 299.08,440.88 299.87,441.29 300.66,441.71 301.46,442.14 302.27,442.56 303.08,442.97 303.89,443.36 304.70,443.70 305.48,443.99 306.26,444.25 307.04,444.48 307.82,444.70 308.61,444.92 309.40,445.13 310.20,445.36 311.00,445.60 311.85,445.86 312.70,446.11 313.56,446.35 314.43,446.60 315.29,446.88 316.16,447.18 317.03,447.51 317.90,447.90 318.89,448.42 319.89,449.00 320.89,449.65 321.89,450.32 322.89,451.02 323.89,451.71 324.89,452.37 325.90,453.00 326.88,453.58 327.86,454.16 328.85,454.72 329.83,455.28 330.82,455.83 331.81,456.36 332.80,456.89 333.80,457.40 334.78,457.89 335.76,458.38 336.74,458.86 337.72,459.32 338.71,459.77 339.70,460.21 340.70,460.62 341.70,461.00 342.69,461.35 343.68,461.69 344.68,462.00 345.68,462.29 346.68,462.57 347.69,462.83 348.70,463.07 349.70,463.30 350.68,463.51 351.67,463.69 352.65,463.87 353.64,464.02 354.63,464.16 355.62,464.29 356.61,464.40 357.60,464.50 358.60,464.59 359.60,464.66 360.61,464.72 361.62,464.77 362.62,464.80 363.62,464.81 364.62,464.81 365.60,464.80 366.54,464.77 367.50,464.71 368.46,464.64 369.41,464.55 370.34,464.46 371.24,464.37 372.09,464.28 372.90,464.20 373.45,464.15 373.97,464.12 374.46,464.08 374.94,464.05 375.41,464.01 375.89,463.96 376.38,463.89 376.90,463.80 377.55,463.64 378.21,463.44 378.88,463.20 379.56,462.95 380.26,462.71 380.98,462.49 381.73,462.31 382.50,462.20 383.49,462.17 384.54,462.23 385.63,462.35 386.75,462.51 387.88,462.69 389.01,462.85 390.12,462.96 391.20,463.00 392.22,462.96 393.23,462.87 394.25,462.75 395.26,462.61 396.25,462.47 397.23,462.34 398.18,462.24 399.10,462.20 399.84,462.20 400.54,462.23 401.23,462.28 401.90,462.35 402.57,462.42 403.25,462.49 403.96,462.55 404.70,462.60 405.62,462.65 406.59,462.71 407.57,462.77 408.58,462.82 409.60,462.86 410.61,462.90 411.62,462.91 412.60,462.90 413.53,462.87 414.45,462.82 415.36,462.75 416.27,462.67 417.19,462.59 418.11,462.49 419.04,462.40 420.00,462.30 421.08,462.20 422.20,462.12 423.34,462.03 424.49,461.93 425.63,461.82 426.76,461.68 427.85,461.51 428.90,461.30 429.81,461.08 430.71,460.86 431.59,460.61 432.45,460.34 433.29,460.04 434.10,459.71 434.87,459.33 435.60,458.90 436.25,458.45 436.87,457.95 437.45,457.42 438.01,456.85 438.55,456.26 439.05,455.65 439.54,455.03 440.00,454.40 440.43,453.77 440.84,453.12 441.23,452.45 441.59,451.77 441.92,451.07 442.24,450.36 442.53,449.63 442.80,448.90 443.05,448.10 443.27,447.28 443.47,446.43 443.63,445.57 443.78,444.71 443.93,443.85 444.06,443.01 444.20,442.20 444.32,441.50 444.43,440.82 444.54,440.16 444.64,439.50 444.73,438.84 444.82,438.16 444.91,437.45 445.00,436.70 445.11,435.70 445.22,434.65 445.32,433.56 445.41,432.45 445.51,431.30 445.61,430.14 445.70,428.97 445.80,427.80 445.91,426.45 446.03,425.05 446.15,423.61 446.27,422.15 446.38,420.71 446.50,419.31 446.60,417.96 446.70,416.70 446.77,415.81 446.83,414.99 446.89,414.22 446.94,413.47 447.00,412.70 447.06,411.89 447.13,411.00 447.20,410.00 447.35,408.01 447.52,405.75 447.71,403.28 447.91,400.67 448.12,397.97 448.32,395.25 448.52,392.57 448.70,390.00 448.87,387.45 449.03,384.84 449.19,382.20 449.34,379.57 449.50,377.00 449.66,374.52 449.82,372.17 450.00,370.00 450.11,368.53 450.20,367.08 450.28,365.66 450.37,364.31 450.48,363.04 450.62,361.88 450.83,360.86 451.10,360.00 451.28,359.59 451.48,359.19 451.69,358.80 451.92,358.46 452.15,358.17 452.38,357.95 452.60,357.82 452.80,357.80 453.12,358.05 453.42,358.62 453.72,359.46 454.00,360.48 454.27,361.61 454.53,362.79 454.77,363.94 455.00,365.00 455.23,366.16 455.43,367.37 455.61,368.62 455.76,369.89 455.91,371.17 456.06,372.46 456.22,373.74 456.40,375.00 456.58,376.25 456.76,377.51 456.94,378.77 457.12,380.03 457.31,381.28 457.52,382.53 457.75,383.77 458.00,385.00 458.28,386.32 458.58,387.82 458.90,389.38 459.23,390.90 459.57,392.27 459.92,393.38 460.26,394.13 460.60,394.40 460.93,394.10 461.26,393.30 461.59,392.12 461.92,390.68 462.25,389.12 462.59,387.57 462.94,386.15 463.30,385.00 463.57,384.28 463.82,383.59 464.08,382.92 464.35,382.28 464.62,381.67 464.92,381.09 465.24,380.53 465.60,380.00 465.95,379.54 466.33,379.08 466.73,378.65 467.14,378.23 467.57,377.85 468.01,377.52 468.45,377.23 468.90,377.00 469.30,376.85 469.72,376.72 470.15,376.63 470.58,376.57 471.01,376.55 471.43,376.56 471.83,376.61 472.20,376.70 472.52,376.81 472.83,376.95 473.12,377.11 473.40,377.30 473.67,377.54 473.92,377.81 474.17,378.13 474.40,378.50 474.84,379.56 475.18,380.95 475.45,382.59 475.67,384.42 475.87,386.34 476.05,388.30 476.26,390.21 476.50,392.00 476.77,393.76 477.02,395.56 477.27,397.38 477.52,399.19 477.79,400.98 478.09,402.73 478.42,404.41 478.80,406.00 479.15,407.27 479.52,408.53 479.91,409.76 480.33,410.96 480.76,412.10 481.20,413.16 481.65,414.13 482.10,415.00 482.40,415.53 482.71,416.08 483.02,416.61 483.34,417.10 483.65,417.52 483.97,417.84 484.29,418.05 484.60,418.10 485.01,417.88 485.43,417.35 485.84,416.58 486.25,415.66 486.66,414.66 487.06,413.67 487.44,412.76 487.80,412.00 488.05,411.49 488.29,410.94 488.52,410.39 488.74,409.87 488.96,409.40 489.19,409.02 489.44,408.74 489.70,408.60 489.92,408.63 490.16,408.80 490.41,409.04 490.67,409.33 490.92,409.62 491.16,409.85 491.39,409.99 491.60,410.00 491.98,409.61 492.29,408.81 492.55,407.68 492.77,406.31 492.97,404.77 493.15,403.16 493.32,401.54 493.50,400.00 493.74,397.83 493.93,395.49 494.09,393.01 494.23,390.43 494.36,387.81 494.49,385.16 494.63,382.55 494.80,380.00 494.98,377.45 495.17,374.84 495.37,372.20 495.56,369.57 495.77,366.99 495.97,364.51 496.18,362.17 496.40,360.00 496.55,358.56 496.70,357.17 496.86,355.84 497.01,354.56 497.17,353.34 497.34,352.17 497.52,351.06 497.70,350.00 497.84,349.30 497.98,348.65 498.13,348.05 498.28,347.46 498.43,346.89 498.59,346.29 498.74,345.67 498.90,345.00 499.11,344.09 499.32,343.15 499.54,342.18 499.76,341.18 499.98,340.15 500.19,339.09 500.40,338.01 500.60,336.90 500.81,335.41 500.98,333.71 501.14,331.92 501.29,330.12 501.46,328.40 501.66,326.87 501.90,325.60 502.20,324.70 502.33,324.46 502.46,324.24 502.60,324.04 502.74,323.87 502.89,323.74 503.03,323.64 503.17,323.60 503.30,323.60 503.54,323.82 503.75,324.31 503.96,325.00 504.16,325.82 504.35,326.71 504.56,327.60 504.77,328.42 505.00,329.10 505.20,329.61 505.40,330.15 505.61,330.71 505.83,331.23 506.05,331.70 506.27,332.07 506.48,332.32 506.70,332.40 506.98,332.24 507.26,331.83 507.54,331.22 507.83,330.46 508.11,329.59 508.38,328.68 508.65,327.76 508.90,326.90 509.22,325.66 509.52,324.24 509.80,322.71 510.07,321.14 510.32,319.59 510.58,318.14 510.84,316.86 511.10,315.80 511.24,315.32 511.37,314.83 511.50,314.36 511.63,313.93 511.77,313.56 511.90,313.26 512.05,313.07 512.20,313.00 512.39,313.10 512.60,313.39 512.82,313.83 513.04,314.38 513.27,315.00 513.49,315.66 513.70,316.30 513.90,316.90 514.13,317.69 514.32,318.58 514.50,319.54 514.67,320.51 514.86,321.45 515.07,322.30 515.31,323.04 515.60,323.60 515.77,323.83 515.96,324.04 516.15,324.22 516.35,324.38 516.55,324.51 516.77,324.60 516.98,324.67 517.20,324.70 517.46,324.66 517.73,324.54 518.02,324.35 518.31,324.14 518.60,323.93 518.88,323.75 519.15,323.63 519.40,323.60 519.61,323.64 519.81,323.71 520.01,323.82 520.20,323.96 520.38,324.13 520.56,324.33 520.73,324.55 520.90,324.80 521.23,325.47 521.51,326.34 521.77,327.37 521.99,328.51 522.21,329.71 522.41,330.94 522.60,332.15 522.80,333.30 523.00,334.47 523.18,335.65 523.35,336.84 523.51,338.04 523.67,339.25 523.84,340.46 524.01,341.68 524.20,342.90 524.41,344.32 524.63,345.96 524.85,347.68 525.07,349.36 525.31,350.89 525.56,352.14 525.82,352.98 526.10,353.30 526.37,353.06 526.66,352.39 526.95,351.37 527.26,350.13 527.57,348.75 527.89,347.33 528.20,345.98 528.50,344.80 528.80,343.71 529.09,342.59 529.37,341.46 529.66,340.34 529.95,339.23 530.25,338.16 530.57,337.15 530.90,336.20 531.17,335.46 531.45,334.66 531.74,333.86 532.04,333.10 532.33,332.43 532.63,331.89 532.92,331.53 533.20,331.40 533.44,331.51 533.69,331.81 533.92,332.27 534.16,332.82 534.39,333.44 534.63,334.07 534.86,334.67 535.10,335.20 535.34,335.73 535.57,336.33 535.81,336.96 536.04,337.57 536.28,338.13 536.52,338.58 536.76,338.89 537.00,339.00 537.25,338.89 537.50,338.59 537.75,338.14 538.00,337.58 538.25,336.96 538.50,336.33 538.75,335.73 539.00,335.20 539.23,334.69 539.45,334.14 539.67,333.58 539.89,333.02 540.11,332.49 540.35,332.03 540.61,331.66 540.90,331.40 541.12,331.32 541.36,331.31 541.62,331.35 541.88,331.41 542.13,331.48 542.38,331.51 542.60,331.49 542.80,331.40 543.05,331.10 543.25,330.69 543.41,330.16 543.53,329.56 543.63,328.89 543.71,328.17 543.80,327.44 543.90,326.70 544.06,325.44 544.19,324.04 544.31,322.53 544.40,320.93 544.48,319.28 544.56,317.60 544.63,315.93 544.70,314.30 544.77,312.61 544.83,310.95 544.88,309.30 544.92,307.63 544.97,305.89 545.01,304.06 545.05,302.11 545.10,300.00 545.19,296.14 545.27,291.71 545.36,286.89 545.46,281.86 545.55,276.83 545.66,271.97 545.77,267.46 545.90,263.50 545.99,261.19 546.08,259.05 546.18,257.02 546.28,255.09 546.39,253.21 546.49,251.36 546.60,249.50 546.70,247.60 546.79,245.58 546.88,243.30 546.97,240.93 547.05,238.62 547.15,236.54 547.25,234.85 547.37,233.72 547.50,233.30 547.64,233.61 547.79,234.46 547.96,235.74 548.14,237.33 548.31,239.11 548.49,240.96 548.65,242.76 548.80,244.40 548.96,246.29 549.11,248.32 549.24,250.43 549.37,252.56 549.50,254.67 549.63,256.70 549.76,258.59 549.90,260.30 549.99,261.43 550.09,262.64 550.17,263.84 550.27,264.97 550.36,265.97 550.46,266.77 550.58,267.31 550.70,267.50 550.84,267.31 551.00,266.77 551.17,265.95 551.34,264.93 551.52,263.79 551.69,262.59 551.85,261.40 552.00,260.30 552.18,258.90 552.34,257.41 552.49,255.87 552.63,254.27 552.76,252.63 552.88,250.96 553.00,249.28 553.10,247.60 553.20,245.74 553.28,243.88 553.35,242.01 553.40,240.10 553.45,238.14 553.50,236.10 553.55,233.96 553.60,231.70 553.68,228.25 553.75,224.52 553.82,220.57 553.89,216.47 553.96,212.30 554.04,208.12 554.12,203.99 554.20,200.00 554.28,196.19 554.37,192.39 554.45,188.59 554.54,184.80 554.64,181.04 554.74,177.32 554.86,173.63 555.00,170.00 555.11,166.54 555.19,162.92 555.25,159.25 555.34,155.65 555.47,152.24 555.67,149.13 555.98,146.45 556.40,144.30 556.63,143.58 556.90,142.98 557.19,142.46 557.49,142.00 557.79,141.56 558.08,141.10 558.35,140.59 558.60,140.00 558.90,139.09 559.17,138.13 559.41,137.11 559.64,136.04 559.85,134.93 560.04,133.79 560.23,132.61 560.40,131.40 560.59,129.79 560.74,128.08 560.86,126.31 560.96,124.48 561.05,122.62 561.15,120.76 561.26,118.91 561.40,117.10 561.57,115.32 561.75,113.55 561.95,111.77 562.15,110.00 562.35,108.23 562.55,106.45 562.73,104.68 562.90,102.90 563.05,101.11 563.19,99.32 563.33,97.53 563.46,95.73 563.58,93.94 563.69,92.15 563.80,90.37 563.90,88.60 563.98,86.80 564.03,84.90 564.07,82.96 564.11,81.05 564.15,79.23 564.23,77.57 564.34,76.14 564.50,75.00 564.59,74.60 564.68,74.20 564.79,73.83 564.90,73.49 565.00,73.20 565.11,72.98 565.21,72.84 565.30,72.80 565.48,73.39 565.63,74.89 565.75,77.01 565.85,79.43 565.94,81.84 566.02,83.95 566.10,85.44 566.20,86.00 566.28,85.78 566.36,85.18 566.44,84.27 566.52,83.14 566.59,81.87 566.67,80.53 566.73,79.22 566.80,78.00 566.86,76.25 566.88,74.14 566.88,71.85 566.88,69.56 566.91,67.45 566.97,65.70 567.10,64.49 567.30,64.00 567.40,64.02 567.51,64.10 567.63,64.25 567.75,64.44 567.87,64.67 567.99,64.93 568.10,65.21 568.20,65.50 568.39,66.34 568.52,67.43 568.60,68.70 568.66,70.10 568.69,71.58 568.72,73.10 568.75,74.59 568.80,76.00 568.86,77.45 568.92,78.91 568.97,80.38 569.01,81.87 569.06,83.37 569.10,84.89 569.15,86.43 569.20,88.00 569.26,89.78 569.32,91.59 569.38,93.42 569.44,95.29 569.50,97.17 569.56,99.07 569.63,100.98 569.70,102.90 569.78,104.97 569.86,107.06 569.94,109.17 570.02,111.29 570.11,113.44 570.20,115.60 570.30,117.79 570.40,120.00 570.52,122.43 570.66,124.89 570.80,127.39 570.95,129.90 571.09,132.43 571.24,134.96 571.37,137.49 571.50,140.00 571.61,142.49 571.72,144.97 571.82,147.44 571.92,149.91 572.02,152.40 572.11,154.90 572.20,157.44 572.30,160.00 572.40,162.79 572.49,165.63 572.58,168.51 572.68,171.40 572.77,174.30 572.87,177.19 572.98,180.06 573.10,182.90 573.23,185.60 573.37,188.28 573.51,190.93 573.67,193.58 573.82,196.23 573.98,198.89 574.14,201.58 574.30,204.30 574.46,207.16 574.61,210.00 574.76,212.83 574.92,215.69 575.08,218.61 575.26,221.62 575.47,224.74 575.70,228.00 576.07,232.48 576.50,237.20 576.99,242.12 577.49,247.18 578.00,252.33 578.49,257.54 578.93,262.74 579.30,267.90 579.62,273.36 579.88,278.94 580.11,284.60 580.30,290.28 580.48,295.91 580.65,301.45 580.82,306.83 581.00,312.00 581.16,316.21 581.31,320.34 581.45,324.38 581.60,328.34 581.74,332.22 581.89,336.00 582.04,339.70 582.20,343.30 582.35,346.23 582.50,349.12 582.66,351.94 582.83,354.69 582.99,357.38 583.14,360.00 583.28,362.54 583.40,365.00 583.48,366.89 583.54,368.69 583.60,370.42 583.65,372.12 583.69,373.80 583.75,375.49 583.82,377.21 583.90,379.00 584.00,381.02 584.11,383.10 584.22,385.22 584.34,387.36 584.48,389.48 584.63,391.58 584.80,393.62 585.00,395.60 585.18,397.31 585.37,399.02 585.57,400.72 585.79,402.39 586.03,404.00 586.29,405.54 586.58,406.98 586.90,408.30 587.15,409.21 587.44,410.18 587.74,411.13 588.05,412.04 588.36,412.83 588.66,413.45 588.94,413.86 589.20,414.00 589.43,413.84 589.64,413.43 589.84,412.81 590.03,412.03 590.21,411.14 590.38,410.19 590.54,409.23 590.70,408.30 590.93,406.72 591.12,404.89 591.29,402.91 591.43,400.82 591.57,398.72 591.70,396.67 591.84,394.74 592.00,393.00 592.12,391.74 592.25,390.39 592.37,389.02 592.50,387.72 592.62,386.56 592.75,385.64 592.88,385.02 593.00,384.80 593.12,384.98 593.23,385.48 593.35,386.24 593.47,387.20 593.58,388.28 593.69,389.44 593.80,390.60 593.90,391.70 594.04,393.45 594.16,395.40 594.27,397.50 594.37,399.69 594.47,401.92 594.57,404.14 594.68,406.28 594.80,408.30 594.91,410.00 595.02,411.70 595.12,413.38 595.24,415.04 595.36,416.64 595.49,418.18 595.63,419.64 595.80,421.00 595.92,421.91 596.04,422.78 596.16,423.61 596.29,424.40 596.43,425.17 596.59,425.91 596.78,426.62 597.00,427.30 597.20,427.88 597.42,428.49 597.65,429.10 597.90,429.68 598.16,430.20 598.43,430.63 598.71,430.94 599.00,431.10 599.22,431.10 599.44,430.99 599.66,430.82 599.90,430.60 600.14,430.36 600.38,430.13 600.64,429.93 600.90,429.80 601.19,429.72 601.49,429.67 601.80,429.65 602.12,429.64 602.44,429.64 602.76,429.64 603.08,429.63 603.40,429.60 603.71,429.55 604.03,429.49 604.34,429.42 604.65,429.35 604.96,429.29 605.27,429.24 605.59,429.20 605.90,429.20 606.22,429.24 606.55,429.32 606.88,429.43 607.21,429.55 607.53,429.66 607.86,429.75 608.18,429.80 608.50,429.80 608.82,429.74 609.14,429.65 609.46,429.53 609.77,429.38 610.09,429.20 610.39,429.01 610.70,428.81 611.00,428.60 611.35,428.34 611.69,428.05 612.03,427.74 612.37,427.41 612.70,427.07 613.02,426.72 613.32,426.36 613.60,426.00 613.85,425.66 614.09,425.33 614.31,424.99 614.52,424.65 614.72,424.28 614.91,423.89 615.11,423.47 615.30,423.00 615.61,422.12 615.90,421.11 616.17,420.01 616.44,418.83 616.70,417.62 616.96,416.39 617.22,415.17 617.50,414.00 617.79,412.80 618.08,411.57 618.37,410.33 618.66,409.09 618.96,407.86 619.26,406.66 619.57,405.50 619.90,404.40 620.18,403.53 620.47,402.70 620.77,401.89 621.08,401.11 621.38,400.33 621.69,399.56 622.00,398.79 622.30,398.00 622.60,397.20 622.89,396.40 623.19,395.59 623.48,394.79 623.78,393.99 624.08,393.21 624.39,392.44 624.70,391.70 625.00,391.07 625.31,390.48 625.63,389.91 625.95,389.34 626.26,388.77 626.56,388.19 626.85,387.57 627.10,386.90 627.37,386.02 627.62,385.08 627.83,384.10 628.02,383.09 628.20,382.07 628.37,381.03 628.53,380.01 628.70,379.00 628.86,378.00 629.01,377.01 629.14,376.00 629.27,375.00 629.40,374.00 629.53,373.00 629.66,372.00 629.80,371.00 629.94,370.01 630.08,369.01 630.22,368.01 630.36,367.02 630.51,366.03 630.66,365.04 630.83,364.06 631.00,363.10 631.17,362.11 631.33,361.00 631.49,359.85 631.67,358.73 631.86,357.71 632.07,356.87 632.32,356.28 632.60,356.00 632.77,356.00 632.96,356.11 633.15,356.28 633.36,356.51 633.56,356.77 633.78,357.04 633.99,357.29 634.20,357.50 634.43,357.73 634.67,357.99 634.92,358.28 635.17,358.55 635.42,358.79 635.66,358.98 635.89,359.09 636.10,359.10 636.35,358.95 636.58,358.64 636.79,358.20 636.99,357.67 637.17,357.07 637.35,356.44 637.52,355.81 637.70,355.20 637.93,354.33 638.15,353.36 638.35,352.32 638.54,351.25 638.73,350.17 638.91,349.12 639.10,348.12 639.30,347.20 639.45,346.49 639.59,345.73 639.73,344.97 639.87,344.23 640.02,343.58 640.18,343.04 640.38,342.67 640.60,342.50 640.80,342.55 641.01,342.74 641.23,343.04 641.47,343.41 641.72,343.81 641.97,344.21 642.23,344.55 642.50,344.80 642.73,344.95 642.97,345.06 643.22,345.15 643.47,345.23 643.73,345.31 643.99,345.39 644.24,345.48 644.50,345.60 644.80,345.76 645.09,345.93 645.39,346.12 645.70,346.32 646.00,346.52 646.30,346.74 646.60,346.96 646.90,347.20 647.25,347.47 647.61,347.74 647.97,348.02 648.33,348.32 648.68,348.63 649.02,348.98 649.32,349.37 649.60,349.80 649.92,350.51 650.17,351.35 650.37,352.27 650.54,353.24 650.68,354.24 650.83,355.22 651.00,356.15 651.20,357.00 651.38,357.65 651.55,358.30 651.72,358.93 651.90,359.54 652.09,360.13 652.30,360.69 652.53,361.21 652.80,361.70 653.05,362.06 653.33,362.37 653.63,362.65 653.95,362.92 654.26,363.18 654.56,363.46 654.85,363.76 655.10,364.10 655.35,364.53 655.57,364.97 655.77,365.44 655.96,365.93 656.14,366.44 656.32,366.97 656.50,367.52 656.70,368.10 656.99,368.96 657.28,369.90 657.57,370.90 657.87,371.94 658.17,372.98 658.48,374.02 658.79,375.04 659.10,376.00 659.39,376.83 659.69,377.64 659.99,378.44 660.29,379.22 660.60,380.01 660.90,380.79 661.20,381.59 661.50,382.40 661.80,383.28 662.09,384.20 662.38,385.13 662.66,386.07 662.95,386.99 663.25,387.88 663.57,388.72 663.90,389.50 664.17,390.08 664.44,390.63 664.72,391.17 665.01,391.68 665.31,392.17 665.62,392.63 665.95,393.08 666.30,393.50 666.65,393.86 667.03,394.18 667.42,394.48 667.83,394.76 668.24,395.04 668.64,395.32 669.03,395.60 669.40,395.90 669.73,396.18 670.06,396.45 670.38,396.71 670.69,396.98 671.00,397.26 671.28,397.57 671.55,397.91 671.80,398.30 672.09,398.91 672.34,399.59 672.54,400.33 672.71,401.12 672.87,401.95 673.03,402.82 673.20,403.70 673.40,404.60 673.68,405.84 673.97,407.18 674.25,408.57 674.55,410.01 674.85,411.47 675.16,412.92 675.47,414.34 675.80,415.70 676.13,417.06 676.48,418.59 676.85,420.17 677.22,421.71 677.58,423.09 677.92,424.21 678.23,424.94 678.50,425.20 678.75,424.83 678.94,423.87 679.10,422.42 679.22,420.63 679.34,418.62 679.45,416.51 679.56,414.43 679.70,412.50 679.90,410.02 680.10,407.38 680.30,404.63 680.50,401.79 680.70,398.90 680.90,395.99 681.10,393.12 681.30,390.30 681.50,387.53 681.70,384.75 681.90,381.98 682.10,379.20 682.30,376.43 682.50,373.65 682.70,370.88 682.90,368.10 683.10,365.36 683.31,362.66 683.52,359.99 683.73,357.30 683.93,354.58 684.13,351.79 684.32,348.90 684.50,345.90 684.71,341.98 684.90,337.87 685.07,333.62 685.24,329.26 685.40,324.85 685.57,320.42 685.73,316.03 685.90,311.70" fill="none" stroke="#de8d16" stroke-width="2.1" stroke-linejoin="round" stroke-linecap="round"/>
<g stroke="#111" stroke-width="2.6" fill="none">
<rect x="67.7" y="3.5" width="677.50" height="533.50" stroke-linejoin="round"/>
<line x1="67.70" y1="537.0" x2="67.70" y2="548.3"/><line x1="110.04" y1="537.0" x2="110.04" y2="543.6"/><line x1="152.39" y1="537.0" x2="152.39" y2="548.3"/><line x1="194.73" y1="537.0" x2="194.73" y2="543.6"/><line x1="237.07" y1="537.0" x2="237.07" y2="548.3"/><line x1="279.42" y1="537.0" x2="279.42" y2="543.6"/><line x1="321.76" y1="537.0" x2="321.76" y2="548.3"/><line x1="364.11" y1="537.0" x2="364.11" y2="543.6"/><line x1="406.45" y1="537.0" x2="406.45" y2="548.3"/><line x1="448.79" y1="537.0" x2="448.79" y2="543.6"/><line x1="491.14" y1="537.0" x2="491.14" y2="548.3"/><line x1="533.48" y1="537.0" x2="533.48" y2="543.6"/><line x1="575.83" y1="537.0" x2="575.83" y2="548.3"/><line x1="618.17" y1="537.0" x2="618.17" y2="543.6"/><line x1="660.51" y1="537.0" x2="660.51" y2="548.3"/><line x1="702.86" y1="537.0" x2="702.86" y2="543.6"/><line x1="745.20" y1="537.0" x2="745.20" y2="548.3"/>
</g>
<text x="41.56" y="573.00" font-size="23.5">4</text><text x="54.63" y="573.00" font-size="23.5">0</text><text x="67.70" y="573.00" font-size="23.5">0</text><text x="80.77" y="573.00" font-size="23.5">0</text><text x="126.25" y="573.00" font-size="23.5">3</text><text x="139.32" y="573.00" font-size="23.5">5</text><text x="152.39" y="573.00" font-size="23.5">0</text><text x="165.46" y="573.00" font-size="23.5">0</text><text x="210.94" y="573.00" font-size="23.5">3</text><text x="224.01" y="573.00" font-size="23.5">0</text><text x="237.07" y="573.00" font-size="23.5">0</text><text x="250.14" y="573.00" font-size="23.5">0</text><text x="295.62" y="573.00" font-size="23.5">2</text><text x="308.69" y="573.00" font-size="23.5">5</text><text x="321.76" y="573.00" font-size="23.5">0</text><text x="334.83" y="573.00" font-size="23.5">0</text><text x="380.31" y="573.00" font-size="23.5">2</text><text x="393.38" y="573.00" font-size="23.5">0</text><text x="406.45" y="573.00" font-size="23.5">0</text><text x="419.52" y="573.00" font-size="23.5">0</text><path d="M0.3726 0 L0.2847 0 L0.2847 -0.5601 Q0.2529 -0.5298 0.2012 -0.4995 Q0.1494 -0.4692 0.1084 -0.4541 L0.1084 -0.5391 Q0.1821 -0.5737 0.2373 -0.6230 Q0.2925 -0.6724 0.3154 -0.7188 L0.3726 -0.7188 Z" transform="translate(465.00,573.00) scale(23.5)" fill="#111" stroke="#111" stroke-width="0.55" vector-effect="non-scaling-stroke"/><text x="478.07" y="573.00" font-size="23.5">5</text><text x="491.14" y="573.00" font-size="23.5">0</text><text x="504.21" y="573.00" font-size="23.5">0</text><path d="M0.3726 0 L0.2847 0 L0.2847 -0.5601 Q0.2529 -0.5298 0.2012 -0.4995 Q0.1494 -0.4692 0.1084 -0.4541 L0.1084 -0.5391 Q0.1821 -0.5737 0.2373 -0.6230 Q0.2925 -0.6724 0.3154 -0.7188 L0.3726 -0.7188 Z" transform="translate(549.69,573.00) scale(23.5)" fill="#111" stroke="#111" stroke-width="0.55" vector-effect="non-scaling-stroke"/><text x="562.76" y="573.00" font-size="23.5">0</text><text x="575.83" y="573.00" font-size="23.5">0</text><text x="588.89" y="573.00" font-size="23.5">0</text><text x="640.91" y="573.00" font-size="23.5">5</text><text x="653.98" y="573.00" font-size="23.5">0</text><text x="667.05" y="573.00" font-size="23.5">0</text><text x="738.67" y="573.00" font-size="23.5">0</text>
<text x="276.3" y="620" font-size="28.3">Wavenumbers (cm</text>
<text x="511" y="606" font-size="13.5">-</text>
<path d="M0.3726 0 L0.2847 0 L0.2847 -0.5601 Q0.2529 -0.5298 0.2012 -0.4995 Q0.1494 -0.4692 0.1084 -0.4541 L0.1084 -0.5391 Q0.1821 -0.5737 0.2373 -0.6230 Q0.2925 -0.6724 0.3154 -0.7188 L0.3726 -0.7188 Z" transform="translate(519.80,606.00) scale(13.5)" fill="#111" stroke="#111" stroke-width="0.55" vector-effect="non-scaling-stroke"/>
<text x="528.3" y="620" font-size="28.3">)</text>
<text transform="translate(24,257.3) rotate(-90)" font-size="28.6" text-anchor="middle">Absorbance</text>
<path d="M0.3726 0 L0.2847 0 L0.2847 -0.5601 Q0.2529 -0.5298 0.2012 -0.4995 Q0.1494 -0.4692 0.1084 -0.4541 L0.1084 -0.5391 Q0.1821 -0.5737 0.2373 -0.6230 Q0.2925 -0.6724 0.3154 -0.7188 L0.3726 -0.7188 Z" transform="translate(551.57,58.60) scale(19)" fill="#111" stroke="#111" stroke-width="0.55" vector-effect="non-scaling-stroke"/><text x="562.13" y="58.60" font-size="19">0</text><text x="572.70" y="58.60" font-size="19">4</text><text x="583.27" y="58.60" font-size="19">9</text>
<path d="M0.3726 0 L0.2847 0 L0.2847 -0.5601 Q0.2529 -0.5298 0.2012 -0.4995 Q0.1494 -0.4692 0.1084 -0.4541 L0.1084 -0.5391 Q0.1821 -0.5737 0.2373 -0.6230 Q0.2925 -0.6724 0.3154 -0.7188 L0.3726 -0.7188 Z" transform="translate(485.57,98.30) scale(19)" fill="#111" stroke="#111" stroke-width="0.55" vector-effect="non-scaling-stroke"/><path d="M0.3726 0 L0.2847 0 L0.2847 -0.5601 Q0.2529 -0.5298 0.2012 -0.4995 Q0.1494 -0.4692 0.1084 -0.4541 L0.1084 -0.5391 Q0.1821 -0.5737 0.2373 -0.6230 Q0.2925 -0.6724 0.3154 -0.7188 L0.3726 -0.7188 Z" transform="translate(496.13,98.30) scale(19)" fill="#111" stroke="#111" stroke-width="0.55" vector-effect="non-scaling-stroke"/><path d="M0.3726 0 L0.2847 0 L0.2847 -0.5601 Q0.2529 -0.5298 0.2012 -0.4995 Q0.1494 -0.4692 0.1084 -0.4541 L0.1084 -0.5391 Q0.1821 -0.5737 0.2373 -0.6230 Q0.2925 -0.6724 0.3154 -0.7188 L0.3726 -0.7188 Z" transform="translate(506.70,98.30) scale(19)" fill="#111" stroke="#111" stroke-width="0.55" vector-effect="non-scaling-stroke"/><text x="517.27" y="98.30" font-size="19">8</text>
<path d="M0.3726 0 L0.2847 0 L0.2847 -0.5601 Q0.2529 -0.5298 0.2012 -0.4995 Q0.1494 -0.4692 0.1084 -0.4541 L0.1084 -0.5391 Q0.1821 -0.5737 0.2373 -0.6230 Q0.2925 -0.6724 0.3154 -0.7188 L0.3726 -0.7188 Z" transform="translate(614.57,123.10) scale(19)" fill="#111" stroke="#111" stroke-width="0.55" vector-effect="non-scaling-stroke"/><text x="625.13" y="123.10" font-size="19">0</text><text x="635.70" y="123.10" font-size="19">3</text><text x="646.27" y="123.10" font-size="19">2</text>
<path d="M0.3726 0 L0.2847 0 L0.2847 -0.5601 Q0.2529 -0.5298 0.2012 -0.4995 Q0.1494 -0.4692 0.1084 -0.4541 L0.1084 -0.5391 Q0.1821 -0.5737 0.2373 -0.6230 Q0.2925 -0.6724 0.3154 -0.7188 L0.3726 -0.7188 Z" transform="translate(433.87,286.50) scale(19)" fill="#111" stroke="#111" stroke-width="0.55" vector-effect="non-scaling-stroke"/><text x="444.43" y="286.50" font-size="19">6</text><text x="455.00" y="286.50" font-size="19">0</text><text x="465.57" y="286.50" font-size="19">4</text>
<path d="M0.3726 0 L0.2847 0 L0.2847 -0.5601 Q0.2529 -0.5298 0.2012 -0.4995 Q0.1494 -0.4692 0.1084 -0.4541 L0.1084 -0.5391 Q0.1821 -0.5737 0.2373 -0.6230 Q0.2925 -0.6724 0.3154 -0.7188 L0.3726 -0.7188 Z" transform="translate(364.87,376.90) scale(19)" fill="#111" stroke="#111" stroke-width="0.55" vector-effect="non-scaling-stroke"/><text x="375.43" y="376.90" font-size="19">7</text><text x="386.00" y="376.90" font-size="19">3</text><text x="396.57" y="376.90" font-size="19">8</text>
<g font-size="26" font-weight="bold" text-anchor="middle">
<text x="95.8" y="399.4">AX</text>
<text x="133.4" y="508.6">AX-CNF</text>
</g>
<g stroke="#111" stroke-width="2.1" fill="none" stroke-linecap="round" stroke-linejoin="round">
<path d="M528.8 88.7 H551.3 M541.7 83.6 L551.3 88.7 L541.7 93.8"/>
<path d="M602.8 113.4 H583.6 M592.9 108.4 L583.6 113.4 L592.9 118.4"/>
<path d="M411.1 366.8 H433.6 M424.2 361.7 L433.6 366.8 L424.2 371.9"/>
<path d="M94.9 408.1 V432.2 M89.8 422.2 L94.9 432.2 L100.2 422.2"/>
<path d="M94.9 486 V460.6 M89.7 470.8 L94.9 460.6 L100.3 470.8"/>
</g>
</svg>
</body></html>
